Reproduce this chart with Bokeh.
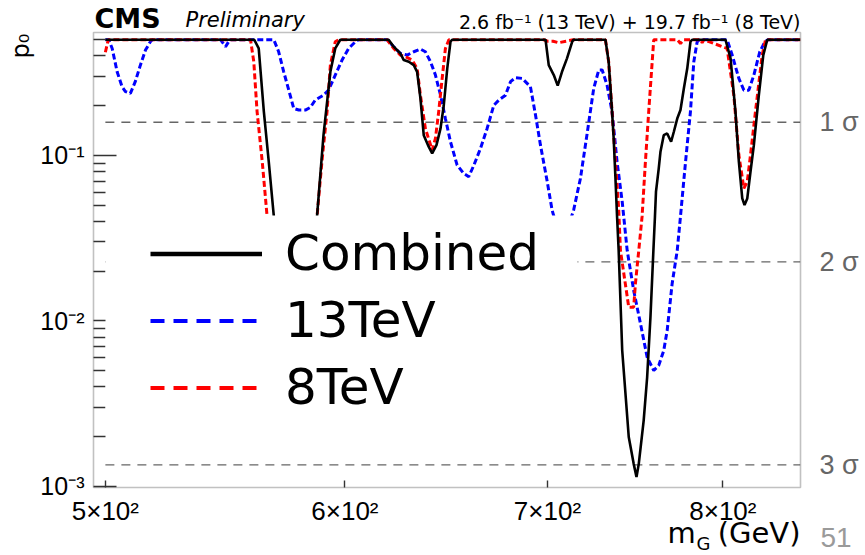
import math
from bokeh.plotting import figure
from bokeh.models import (Range1d, FixedTicker, LogAxis, Label, Legend, LegendItem,
                          BoxAnnotation)
from bokeh.embed import file_html
from bokeh.resources import INLINE

# ---------------- data ----------------
comb_m = [500, 560, 561.9, 564.1, 566.2, 568.4, 572, 577, 583, 587.4, 590.3, 593.4, 595.6, 597.9,
          620.3, 622.7, 625.9, 627.5, 629.9, 632.3, 633.9, 635.5, 637.1, 639.5, 641.2, 643.3,
          645.3, 646.9, 648.6, 650.2, 651.0, 699.0, 700.7, 703.4, 705.5, 707.8, 710.5, 713.3,
          714.0, 731.6, 733.4, 735.3, 736.2, 737.2, 738.1, 739.0, 741.0, 744.7, 747.5, 749.1,
          750.4, 753.2, 755.2, 757.1, 758.8, 759.7, 760.3, 761.9, 762.9, 764.8, 766.8, 769.1,
          770.7, 772.7, 774.6, 776.6, 778.6, 780.5, 781.5, 801.6, 804.7, 807.7, 809.8, 811.9,
          813.3, 815.0, 817.0, 819.1, 822.2, 825.0, 827.5, 848.5]
comb_p = [0.5, 0.5, 0.443, 0.184, 0.092, 0.0428, 0.026, 0.019, 0.03, 0.0428, 0.1326, 0.320, 0.443, 0.5,
          0.5, 0.454, 0.413, 0.377, 0.368, 0.351, 0.320, 0.221, 0.1326, 0.1129, 0.1028, 0.1154,
          0.1456, 0.201, 0.335, 0.486, 0.5, 0.5, 0.351, 0.306, 0.264, 0.320, 0.386, 0.486,
          0.5, 0.5, 0.368, 0.184, 0.1267, 0.0726, 0.0428, 0.0267, 0.00663, 0.00199, 0.00137, 0.00114,
          0.00137, 0.0025, 0.00457, 0.01054, 0.0267, 0.0428, 0.0604, 0.0835, 0.1053, 0.1326, 0.1358, 0.121,
          0.139, 0.167, 0.188, 0.254, 0.335, 0.486, 0.5, 0.5, 0.386, 0.184, 0.0916, 0.055,
          0.0501, 0.055, 0.0797, 0.1154, 0.231, 0.404, 0.5, 0.5]

tev13_m = [500, 501.3, 502.6, 504.5, 506.4, 507.7, 509.6, 511.5, 513.5, 515.5, 517.4, 518.2,
           545.8, 547.9, 549.3, 550.0, 568.4, 570.5, 572.7, 574.9, 577.1, 579.3, 582.2, 584.4,
           586.6, 590.3, 592.6, 595.6, 598.7, 601.7, 604.8, 606.2, 619.6, 622.7, 625.9, 629.1,
           632.3, 635.5, 637.9, 640.4, 642.8, 645.3, 647.7, 650.2, 653.5, 656.8, 659.3, 661.9,
           665.2, 668.6, 672.0, 674.6, 678.0, 680.6, 683.2, 686.7, 691.0, 693.7, 696.3, 699.9,
           702.5, 706, 710, 714.1, 717.8, 721.5, 725.1, 727.9, 729.8, 732.5, 735.3, 738.1,
           741.0, 743.8, 747.5, 751.4, 755.2, 759.0, 761.9, 764.8, 766.8, 769.7, 772.7, 774.6,
           777.6, 780.5, 782.5, 784.5, 785.9, 802.6, 805.7, 809.8, 812.9, 816.0, 819.1, 822.8,
           826.0, 827.9, 848.5]
tev13_p = [0.5, 0.5, 0.443, 0.320, 0.260, 0.243, 0.237, 0.279, 0.351, 0.433, 0.486, 0.5,
           0.5, 0.454, 0.49, 0.5, 0.5, 0.423, 0.320, 0.248, 0.192, 0.188, 0.188, 0.195,
           0.216, 0.231, 0.248, 0.306, 0.377, 0.443, 0.486, 0.5, 0.5, 0.454, 0.413, 0.404,
           0.423, 0.439, 0.423, 0.368, 0.306, 0.231, 0.167, 0.121, 0.0874, 0.0778, 0.0744, 0.0874,
           0.110, 0.1456, 0.201, 0.216, 0.231, 0.279, 0.295, 0.292, 0.260, 0.175, 0.1154, 0.0694,
           0.0467, 0.034, 0.034, 0.0467, 0.0726, 0.136, 0.254, 0.328, 0.328, 0.266, 0.184, 0.0916,
           0.0525, 0.0267, 0.0153, 0.0096, 0.00604, 0.00502, 0.00539, 0.00663, 0.00876, 0.0168, 0.0267, 0.0428,
           0.0916, 0.184, 0.368, 0.486, 0.5, 0.5, 0.404, 0.292, 0.248, 0.248, 0.306, 0.423,
           0.486, 0.5, 0.5]

tev8_m = [500, 501.1, 558.4, 559.8, 561.2, 563.4, 565.5, 568, 572, 580, 587.4, 589.6, 591.9,
          593.4, 595.6, 597.1, 619.6, 622.7, 625.9, 628.3, 631.5, 633.9, 635.5, 637.9, 641.2,
          642.8, 644.4, 646.1, 647.7, 649.4, 698, 700, 703, 706, 710, 714, 731.6, 733.4, 735.3,
          737.2, 739.0, 740.0, 744.7, 747.5, 748.5, 750.4, 752.3, 754.2, 756.1, 758.1, 759.0,
          772.7, 774.6, 776.6, 786.5, 787.5, 788.5, 802.6, 806.7, 809.8, 812.9, 815.0, 817.0,
          820.1, 824.3, 826.4, 848.5]
tev8_p = [0.42, 0.5, 0.5, 0.368, 0.184, 0.092, 0.0428, 0.025, 0.015, 0.025, 0.0428, 0.092, 0.184,
          0.351, 0.486, 0.5, 0.5, 0.443, 0.404, 0.395, 0.377, 0.335, 0.231, 0.1456, 0.1077,
          0.1267, 0.184, 0.292, 0.443, 0.5, 0.5, 0.49, 0.49, 0.48, 0.49, 0.5, 0.5, 0.368, 0.184,
          0.0916, 0.0478, 0.0267, 0.0121, 0.0121, 0.01685, 0.0267, 0.0428, 0.0916, 0.184, 0.368, 0.5,
          0.5, 0.475, 0.5, 0.5, 0.48, 0.5, 0.443, 0.231, 0.1005, 0.0632, 0.0694, 0.1005,
          0.184, 0.404, 0.5, 0.5]

sigma_p = [0.1587, 0.02275, 0.00135]
sigma_labels = ["1 σ", "2 σ", "3 σ"]
sigma_m = [500, 848.5]

x_ticks = [500, 600, 700, 800]
x_tick_labels = ["5×10²", "6×10²", "7×10²", "8×10²"]
y_ticks = [0.001, 0.01, 0.1]
y_tick_labels = ["10⁻³", "10⁻²", "10⁻¹"]
y_minor = [0.002, 0.003, 0.004, 0.005, 0.006, 0.007, 0.008, 0.009,
           0.02, 0.03, 0.04, 0.05, 0.06, 0.07, 0.08, 0.09,
           0.2, 0.3, 0.4, 0.5]

series_names = ["Combined", "13TeV", "8TeV"]

# ---------------- layout constants ----------------
W, H = 865, 555
BOX_L, BOX_R, BOX_T, BOX_B = 93, 800, 32, 487       # plot box in canvas pixels
X_LO, X_HI = 495.5, 848.7                            # axis range shown in the box
Y_LO, Y_HI = 0.000986, 0.553

# The frame fills the whole canvas; axes are pinned to the plot box edges.
px_per_dec_x = (BOX_R - BOX_L) / math.log10(X_HI / X_LO)
px_per_dec_y = (BOX_B - BOX_T) / math.log10(Y_HI / Y_LO)
x_start = X_LO / 10 ** (BOX_L / px_per_dec_x)
x_end = X_HI * 10 ** ((W - BOX_R) / px_per_dec_x)
y_start = Y_LO / 10 ** ((H - BOX_B) / px_per_dec_y)
y_end = Y_HI * 10 ** (BOX_T / px_per_dec_y)

FONT = "Liberation Sans"
DV = "DejaVu Sans"
FRAME = "#333333"
NAN = float("nan")

p = figure(width=W, height=H, x_axis_type="log", y_axis_type="log",
           x_range=Range1d(x_start, x_end), y_range=Range1d(y_start, y_end),
           output_backend="svg", toolbar_location=None,
           min_border_left=0, min_border_right=0, min_border_top=0, min_border_bottom=0)
p.title.visible = False
p.grid.visible = False
p.background_fill_color = "white"
p.border_fill_color = "white"
p.outline_line_color = None

xa = p.xaxis[0]
xa.fixed_location = Y_LO
xa.ticker = FixedTicker(ticks=x_ticks, minor_ticks=[])
xa.major_label_overrides = dict(zip(x_ticks, x_tick_labels))
xa.major_tick_in = 7
xa.major_tick_out = 0
xa.minor_tick_line_color = None
xa.major_tick_line_color = FRAME
xa.major_tick_line_width = 1.4
xa.axis_line_color = None
xa.major_label_text_font = FONT
xa.major_label_text_font_size = "26px"
xa.major_label_text_color = "black"
xa.major_label_standoff = 8

ya = p.yaxis[0]
ya.fixed_location = X_LO
ya.ticker = FixedTicker(ticks=y_ticks, minor_ticks=y_minor)
ya.major_label_overrides = dict(zip(y_ticks, y_tick_labels))
ya.major_tick_in = 23
ya.major_tick_out = 0
ya.minor_tick_in = 12
ya.minor_tick_out = 0
ya.major_tick_line_color = FRAME
ya.minor_tick_line_color = FRAME
ya.major_tick_line_width = 1.4
ya.minor_tick_line_width = 1.4
ya.axis_line_color = None
ya.major_label_text_font = FONT
ya.major_label_text_font_size = "25px"
ya.major_label_text_color = "black"
ya.major_label_standoff = 9

ra = LogAxis(fixed_location=X_HI,
             ticker=FixedTicker(ticks=sigma_p, minor_ticks=[]),
             major_label_overrides=dict(zip(sigma_p, sigma_labels)),
             axis_line_color=None, major_tick_line_color=None, minor_tick_line_color=None,
             major_label_text_color="#666666", major_label_text_font=FONT,
             major_label_text_font_size="27px", major_label_standoff=13)
p.add_layout(ra, "right")

# sigma reference lines
p.segment(x0=[sigma_m[0]] * len(sigma_p), x1=[sigma_m[1]] * len(sigma_p), y0=sigma_p, y1=sigma_p,
          line_color="#666666", line_width=1.3, line_dash="9 7")

# curves
p.line(tev13_m, tev13_p, line_color="#0000ff", line_width=3, line_dash="6 3")
p.line(tev8_m, tev8_p, line_color="#ff0000", line_width=3, line_dash="6 3")
p.line(comb_m, comb_p, line_color="black", line_width=2.6)

# white legend background (screen units: from the canvas bottom-left)
p.add_layout(BoxAnnotation(left=105, right=577, bottom=H - 420, top=H - 215,
                           left_units="screen", right_units="screen",
                           bottom_units="screen", top_units="screen",
                           fill_color="white", fill_alpha=1.0, line_color=None))

# plot box border
p.add_layout(BoxAnnotation(left=BOX_L, right=BOX_R, bottom=H - BOX_B, top=H - BOX_T,
                           left_units="screen", right_units="screen",
                           bottom_units="screen", top_units="screen",
                           fill_color=None, fill_alpha=0, line_color=FRAME, line_width=1.6))

# legend sample renderers (they carry no drawable data)
lg_c = p.line(x=[NAN, NAN], y=[NAN, NAN], line_color="black", line_width=4.5)
lg_13 = p.line(x=[NAN, NAN], y=[NAN, NAN], line_color="#0000ff", line_width=4, line_dash="14 9")
lg_8 = p.line(x=[NAN, NAN], y=[NAN, NAN], line_color="#ff0000", line_width=4, line_dash="14 9")
legend = Legend(items=[LegendItem(label=series_names[0], renderers=[lg_c]),
                       LegendItem(label=series_names[1], renderers=[lg_13]),
                       LegendItem(label=series_names[2], renderers=[lg_8])],
                location=(150, H - 420.5), orientation="vertical", padding=0, spacing=0, margin=0,
                glyph_width=112, glyph_height=67, label_height=67, label_standoff=23,
                label_text_font=DV, label_text_font_size="50px", label_text_color="black",
                background_fill_alpha=0, border_line_color=None, inactive_fill_alpha=0)
p.add_layout(legend)

# texts (screen units: x from the left, y from the bottom of the canvas);
# `base` is the wanted baseline measured from the canvas top; Bokeh draws the
# alphabetic baseline about 0.35 em lower than the anchor, so compensate.
def lab(text, x, base, size, font=DV, style="normal", align="left", color="black",
        angle=0.0):
    shift = 0.35 * size
    if angle:
        x, y = x - shift, H - base
    else:
        y = H - (base - shift)
    p.add_layout(Label(x=x, y=y, x_units="screen", y_units="screen", text=text,
                       text_font=font, text_font_size=f"{size}px", text_font_style=style,
                       text_align=align, text_baseline="alphabetic", text_color=color,
                       angle=angle))

lab("CMS", 94, 27, 27, style="bold")
lab("Preliminary", 185, 27, 21, style="italic")
lab("2.6 fb⁻¹ (13 TeV) + 19.7 fb⁻¹ (8 TeV)", BOX_R, 28.5, 19, align="right")
lab("p₀", 29, 58, 24, angle=math.pi / 2)
lab("m", 667, 543, 29)
lab("G", 696, 549, 18)
lab("(GeV)", BOX_R, 543, 29, align="right")
lab("51", 820, 547, 28, font=FONT, color="#9a9a9a")

open("out.html", "w").write(file_html(p, INLINE))
